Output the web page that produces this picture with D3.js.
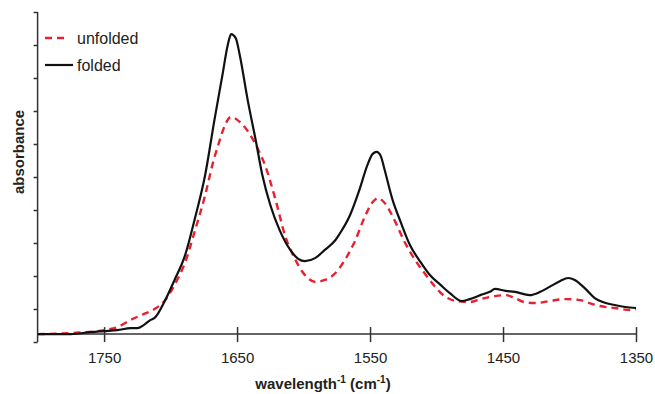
<!DOCTYPE html>
<html>
<head>
<meta charset="utf-8">
<script src="https://cdn.jsdelivr.net/npm/d3@7"></script>
<style>
  html, body { margin: 0; padding: 0; background: #fff; }
  svg { display: block; font-family: "Liberation Sans", Arial, sans-serif; }
</style>
</head>
<body>
<svg id="chart" width="655" height="394"></svg>
<script>
// ---- data ----
const xTicks = [1750, 1650, 1550, 1450, 1350];
const seriesNames = ["unfolded", "folded"];

const foldedWavenumber = [1800,1775,1760,1750,1740,1730,1725,1720,1715,1712,1704,1697,1689,1682,1674,1667,1661,1657,1654.5,1651,1648,1642,1636,1631,1625,1618,1610,1604,1599,1591,1584,1576,1573,1565,1558,1552,1548,1545,1542,1539,1533,1527,1520,1512,1505,1497,1490,1481,1475,1467,1460,1456,1448,1441,1430,1422,1415,1407,1401,1396,1388,1381,1375,1366,1358,1350];
const foldedAbsorbance = [0.24,0.24,0.30,0.33,0.36,0.42,0.42,0.52,0.67,0.73,1.27,1.88,2.64,3.70,5.06,6.73,8.09,9.00,9.33,9.21,8.70,7.33,6.12,5.06,4.15,3.39,2.79,2.52,2.45,2.55,2.79,3.09,3.27,3.85,4.61,5.36,5.70,5.76,5.64,5.21,4.30,3.64,2.94,2.42,2.03,1.73,1.48,1.24,1.30,1.42,1.52,1.61,1.55,1.52,1.42,1.52,1.67,1.85,1.94,1.88,1.61,1.33,1.21,1.12,1.06,1.03];

const unfoldedWavenumber = [1800,1775,1750,1740,1730,1720,1712,1704,1697,1689,1682,1674,1668,1663,1659,1654.5,1648,1640,1634,1629,1621,1614,1606,1599,1591,1584,1576,1569,1561,1554,1548,1544,1539,1531,1524,1516,1508,1501,1494,1485,1475,1467,1456,1448,1441,1434,1426,1415,1403,1392,1385,1377,1366,1354,1350];
const unfoldedAbsorbance = [0.24,0.27,0.36,0.45,0.67,0.85,1.00,1.27,1.73,2.42,3.33,4.45,5.45,6.12,6.58,6.82,6.67,6.27,5.82,5.36,4.30,3.24,2.48,2.03,1.82,1.88,2.09,2.48,3.09,3.79,4.24,4.36,4.21,3.64,3.03,2.48,2.03,1.67,1.39,1.24,1.21,1.30,1.39,1.42,1.33,1.21,1.18,1.24,1.30,1.27,1.18,1.09,1.03,0.97,1.00];

const yTickValues = [0,1,2,3,4,5,6,7,8,9,10];

// ---- layout ----
const svg = d3.select("#chart");
const x = d3.scaleLinear().domain([1800, 1350]).range([37.6, 636]);
const y = d3.scaleLinear().domain([0, 10]).range([342, 12]);
const axisColor = "#333";

// y axis
const yAxis = svg.append("g").attr("transform", `translate(${x(1800)},0)`)
  .call(d3.axisLeft(y).tickValues(yTickValues).tickSize(4).tickFormat(""));
yAxis.select(".domain").attr("d", `M0,${y(0)}V${y(10)}`);
yAxis.selectAll("path, line").attr("stroke", axisColor).attr("stroke-width", 1.5);

// x axis (crosses the y axis slightly above the bottom)
const xAxisY = y(0.24);
const xAxis = svg.append("g").attr("transform", `translate(0,${xAxisY})`)
  .call(d3.axisBottom(x).tickValues(xTicks).tickSize(8).tickPadding(10).tickFormat(d3.format("d")));
xAxis.select(".domain").attr("d", `M${x(1800)},0H${x(1350)}`);
xAxis.selectAll("path, line").attr("stroke", axisColor).attr("stroke-width", 1.5);
xAxis.selectAll(".tick line").attr("y1", -7);
xAxis.selectAll("text").attr("font-size", 15).attr("fill", "#222")
  .attr("font-family", "'Liberation Sans', Arial, sans-serif");

// lines
const line = d3.line().curve(d3.curveMonotoneX).x(d => x(d[0])).y(d => y(d[1]));
const unfolded = unfoldedWavenumber.map((w, i) => [w, unfoldedAbsorbance[i]]);
const folded = foldedWavenumber.map((w, i) => [w, foldedAbsorbance[i]]);

svg.append("path").datum(unfolded).attr("d", line)
  .attr("fill", "none").attr("stroke", "#e8202f").attr("stroke-width", 2.4)
  .attr("stroke-dasharray", "7,5");
svg.append("path").datum(folded).attr("d", line)
  .attr("fill", "none").attr("stroke", "#111").attr("stroke-width", 2.2);

// legend
const legend = svg.append("g");
legend.append("line").attr("x1", 45).attr("x2", 69).attr("y1", 38).attr("y2", 38)
  .attr("stroke", "#e8202f").attr("stroke-width", 2.4).attr("stroke-dasharray", "7,5");
legend.append("text").attr("x", 77).attr("y", 43.5).attr("font-size", 16).attr("fill", "#222").text(seriesNames[0]);
legend.append("line").attr("x1", 45).attr("x2", 73).attr("y1", 65).attr("y2", 65)
  .attr("stroke", "#111").attr("stroke-width", 2.2);
legend.append("text").attr("x", 77).attr("y", 70.5).attr("font-size", 16).attr("fill", "#222").text(seriesNames[1]);

// axis titles
const xt = svg.append("text").attr("x", 323).attr("y", 389).attr("text-anchor", "middle")
  .attr("font-size", 15).attr("font-weight", "bold").attr("fill", "#222");
xt.append("tspan").text("wavelength");
xt.append("tspan").attr("font-size", 10).attr("dy", -6).text("-1");
xt.append("tspan").attr("dy", 6).text(" (cm");
xt.append("tspan").attr("font-size", 10).attr("dy", -6).text("-1");
xt.append("tspan").attr("dy", 6).text(")");

svg.append("text").attr("transform", "translate(24,152) rotate(-90)")
  .attr("text-anchor", "middle").attr("font-size", 15).attr("font-weight", "bold")
  .attr("fill", "#222").text("absorbance");
</script>
</body>
</html>
